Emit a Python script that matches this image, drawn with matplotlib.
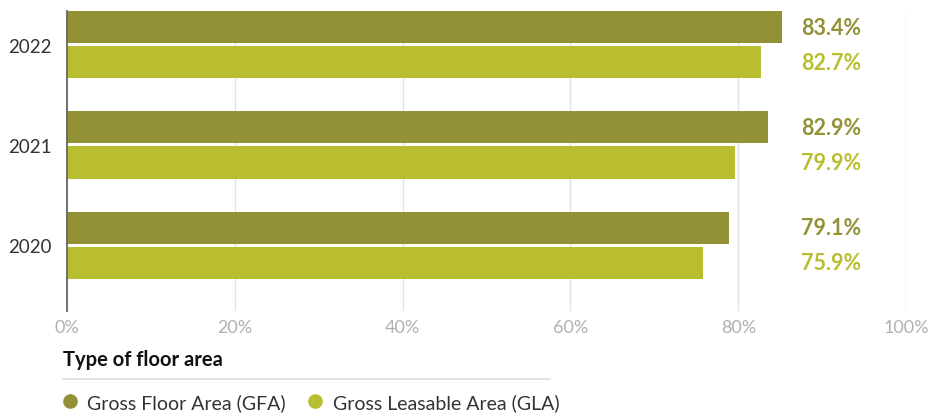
import numpy as np
import matplotlib
matplotlib.use("Agg")
import matplotlib.pyplot as plt
from matplotlib.lines import Line2D

plt.rcParams['font.family'] = ['Lato', 'DejaVu Sans']

# --------------------------- data ---------------------------
years = ["2020", "2021", "2022"]
gfa = [78.9, 83.5, 85.2]          # bar lengths as drawn
gla = [75.8, 79.6, 82.7]
gfa_labels = ["79.1%", "82.9%", "83.4%"]
gla_labels = ["75.9%", "79.9%", "82.7%"]
x_ticks = [0, 20, 40, 60, 80, 100]
x_tick_labels = ["0%", "20%", "40%", "60%", "80%", "100%"]

c_gfa = "#939136"
c_gla = "#b9be30"

# --------------------------- figure ---------------------------
W, H = 937, 414
fig = plt.figure(figsize=(W / 100, H / 100), dpi=100)
ax = fig.add_axes([67 / W, 102 / H, (906 - 67) / W, 300 / H])

y = np.arange(len(years))
h = 0.32
off = 0.175
ax.barh(y + off, gfa, height=h, color=c_gfa, zorder=3)
ax.barh(y - off, gla, height=h, color=c_gla, zorder=3)

# value labels to the right
for yi, lg, ll in zip(y, gfa_labels, gla_labels):
    ax.text(87.5, yi + off, lg, color=c_gfa, fontsize=15.5, fontweight='bold',
            va='center', ha='left')
    ax.text(87.5, yi - off, ll, color=c_gla, fontsize=15.5, fontweight='bold',
            va='center', ha='left')

ax.set_xlim(0, 100)
ax.set_ylim(-0.655, 2.335)
ax.set_xticks(x_ticks)
ax.set_xticklabels(x_tick_labels, fontsize=13, color="#b0b0b0")
ax.set_yticks(y)
ax.set_yticklabels(years, fontsize=13.5, color="#333333")
ax.tick_params(axis='both', length=0)
ax.tick_params(axis='x', pad=6)
ax.tick_params(axis='y', pad=11)

ax.grid(axis='x', color="#e3e3e3", linewidth=1, zorder=0)
ax.grid(axis='y', visible=False)
for s in ['top', 'right', 'bottom']:
    ax.spines[s].set_visible(False)
ax.spines['left'].set_color("#666666")
ax.spines['left'].set_linewidth(1.3)
ax.spines['left'].set_zorder(4)

# --------------------------- legend ---------------------------
fig.text(63 / W, 1 - 360 / H, "Type of floor area", fontsize=14.5,
         fontweight='bold', color="#111111", va='center', ha='left')
fig.add_artist(Line2D([63 / W, 550 / W], [1 - 380 / H, 1 - 380 / H],
                      color="#dddddd", linewidth=1.2, transform=fig.transFigure))
handles = [
    Line2D([], [], marker='o', linestyle='none', markersize=9.5,
           markerfacecolor=c_gfa, markeredgecolor=c_gfa, label="Gross Floor Area (GFA)"),
    Line2D([], [], marker='o', linestyle='none', markersize=9.5,
           markerfacecolor=c_gla, markeredgecolor=c_gla, label="Gross Leasable Area (GLA)"),
]
leg = fig.legend(handles=handles, loc='center left', ncol=2, frameon=False,
                 bbox_to_anchor=(62 / W, 1 - 403 / H), fontsize=14,
                 handlelength=0.8, handletextpad=0.5, columnspacing=1.1,
                 borderaxespad=0, borderpad=0)
for t in leg.get_texts():
    t.set_color("#333333")

fig.savefig("out.png", dpi=100)
